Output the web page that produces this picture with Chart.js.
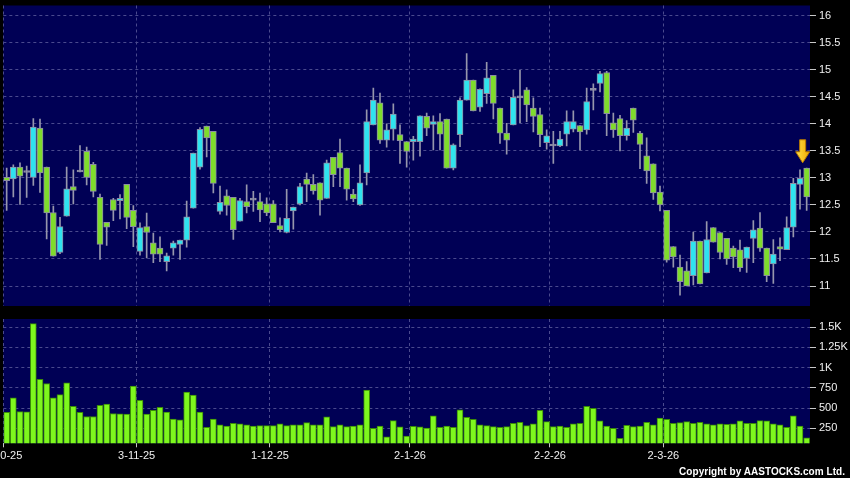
<!DOCTYPE html>
<html>
<head>
<meta charset="utf-8">
<script src="https://cdn.jsdelivr.net/npm/chart.js@4.4.0/dist/chart.umd.min.js"></script>
<style>
html, body { margin: 0; padding: 0; background: #000; overflow: hidden; }
body { width: 850px; height: 478px; position: relative; }
#priceChart { position: absolute; left: -40px; top: 0; }
#volChart { position: absolute; left: -40px; top: 310px; }
#copy { position: absolute; right: 5px; bottom: 1px; color: #fff; font: bold 10px "Liberation Sans", Arial, sans-serif; letter-spacing: 0.05px; }
</style>
</head>
<body>
<canvas id="priceChart" width="890" height="310"></canvas>
<canvas id="volChart" width="890" height="168"></canvas>
<div id="copy">Copyright by AASTOCKS.com Ltd.</div>
<script>
// daily OHLC, Oct 2025 - Mar 2026
const open = [13.01,12.98,13.20,13.10,13.01,13.92,13.20,12.36,11.62,12.29,
  12.84,13.11,13.49,13.25,12.64,12.18,12.60,12.58,12.88,12.40,
  11.64,12.10,11.80,11.70,11.45,11.70,11.77,11.85,12.44,13.20,
  13.96,13.86,12.38,12.67,12.64,12.20,12.56,12.59,12.56,12.52,
  12.52,12.12,11.99,12.39,12.52,12.98,12.88,12.91,12.62,13.38,
  13.47,13.18,12.70,12.50,13.09,13.98,14.39,13.70,13.90,13.80,
  13.67,13.67,13.67,14.14,13.99,14.04,14.09,13.18,13.80,14.44,
  14.81,14.31,14.56,14.90,14.29,13.83,13.98,14.48,14.63,14.29,
  14.17,13.65,13.59,13.59,13.81,13.90,13.97,13.89,14.62,14.75,
  14.95,14.02,14.10,13.78,14.29,13.83,13.41,13.26,12.74,12.40,
  11.73,11.35,11.28,11.19,11.83,11.24,12.08,11.99,11.88,11.70,
  11.67,11.51,11.88,12.07,11.70,11.41,11.73,11.67,12.09,12.88,
  13.18];
const high = [13.18,13.24,13.28,13.22,14.10,14.09,13.20,12.48,12.27,13.20,
  13.15,13.60,13.57,13.29,12.70,12.18,12.62,12.69,12.88,12.49,
  12.17,12.35,11.98,11.91,11.61,11.83,11.85,12.57,13.46,13.93,
  13.96,13.86,12.85,12.78,12.64,12.62,12.87,12.75,12.72,12.63,
  12.58,12.26,12.79,12.46,12.90,13.09,13.06,12.91,13.33,13.38,
  13.72,13.18,12.79,13.24,14.26,14.66,14.57,14.00,14.37,13.98,
  13.67,13.77,14.15,14.20,14.15,14.19,14.09,13.63,14.48,15.30,
  14.81,14.65,15.14,14.90,14.29,14.01,14.63,14.99,14.67,14.48,
  14.29,13.89,13.86,13.86,14.24,14.24,13.97,14.66,14.74,14.97,
  14.97,14.20,14.16,14.06,14.29,13.86,13.74,13.26,12.85,12.40,
  11.73,11.57,11.45,12.00,11.83,12.19,12.08,11.99,11.88,11.74,
  11.85,11.72,12.21,12.36,11.70,11.86,11.89,12.28,12.99,13.15,
  13.18];
const low = [12.40,12.65,12.51,12.64,12.86,12.73,11.87,11.55,11.60,12.29,
  12.52,13.11,12.87,12.65,11.49,11.75,12.21,12.24,12.06,11.73,
  11.57,11.52,11.43,11.45,11.28,11.57,11.49,11.72,12.44,13.16,
  13.39,12.72,12.33,12.31,11.86,12.20,12.35,12.38,12.19,12.30,
  12.17,12.00,11.98,12.05,12.50,12.56,12.70,12.31,12.62,12.84,
  12.84,12.59,12.56,12.49,12.87,13.98,13.64,13.57,13.70,13.27,
  13.20,13.33,13.40,13.78,13.52,13.52,13.18,13.15,13.58,14.44,
  14.24,14.23,14.38,14.09,13.64,13.44,13.98,14.02,14.04,13.85,
  13.58,13.53,13.27,13.58,13.59,13.85,13.52,13.81,14.26,14.59,
  13.78,13.75,13.50,13.70,13.84,13.17,12.90,12.60,12.39,11.44,
  11.35,10.83,11.00,11.02,11.04,11.24,11.81,11.50,11.40,11.34,
  11.27,11.25,11.43,11.64,11.08,11.05,11.47,11.67,11.91,12.42,
  12.40];
const close = [12.95,13.20,13.03,13.10,13.94,13.09,12.35,11.55,12.10,12.80,
  12.77,13.11,13.01,12.75,11.77,12.09,12.40,12.62,12.27,12.10,
  12.08,11.99,11.59,11.59,11.56,11.80,11.85,12.28,13.46,13.90,
  13.74,12.90,12.55,12.49,12.04,12.58,12.47,12.59,12.41,12.35,
  12.17,12.04,12.25,12.46,12.84,12.88,12.76,12.59,13.28,13.06,
  13.18,12.79,12.61,12.91,14.04,14.44,13.70,13.89,14.18,13.69,
  13.49,13.72,14.15,13.92,14.04,13.81,13.18,13.61,14.44,14.81,
  14.24,14.64,14.85,14.38,13.83,13.70,14.49,14.48,14.35,14.14,
  13.80,13.78,13.59,13.72,14.04,14.04,13.85,14.41,14.62,14.93,
  14.19,13.89,13.78,13.92,14.07,13.62,13.13,12.72,12.50,11.48,
  11.54,11.08,11.00,11.83,11.04,11.86,11.81,11.62,11.50,11.54,
  11.34,11.72,12.04,11.70,11.19,11.59,11.68,12.08,12.90,12.99,
  12.65];
const volume = [446,625,458,454,1542,854,804,625,667,812,
  521,446,396,396,533,550,433,429,425,771,
  596,425,471,508,450,363,354,696,662,450,
  262,363,292,279,312,304,292,279,283,283,
  283,304,283,292,292,321,292,292,392,271,
  292,271,279,292,721,250,279,146,346,267,
  154,275,267,254,404,262,279,262,479,387,
  362,292,283,271,262,271,312,325,283,304,
  471,333,271,279,262,304,312,521,496,342,
  279,250,125,287,271,279,325,292,375,362,
  312,321,333,312,325,304,292,304,300,304,
  342,312,312,346,342,304,292,262,404,279,
  133];

// first trading day of each month (1-based candle number) and its label
const monthStart = [1, 21, 41, 62, 83, 100];
const monthLabels = ['2-10-25', '3-11-25', '1-12-25', '2-1-26', '2-2-26', '2-3-26'];
const priceTicks = [11, 11.5, 12, 12.5, 13, 13.5, 14, 14.5, 15, 15.5, 16];
const volTicks = [250, 500, 750, 1000, 1250, 1500];
const volTickLabels = ['250', '500', '750', '1K', '1.25K', '1.5K'];

const UP = '#2fe3ef';
const DOWN = '#7fdc2c';
const FLAT = '#9a9ab0';
const NAVY = '#000055';
const GRID = '#4a4a8e';
const FONT = { family: '"Liberation Sans", Arial, sans-serif', size: 11 };

const idx = open.map((_, i) => i + 1);
const bodyColor = open.map((o, i) => close[i] > o ? UP : (close[i] < o ? DOWN : FLAT));

const navyBg = {
    id: 'navyBg',
    beforeDraw(chart) {
        const a = chart.chartArea;
        chart.ctx.save();
        chart.ctx.fillStyle = NAVY;
        chart.ctx.fillRect(a.left, a.top, a.right - a.left, a.bottom - a.top);
        chart.ctx.restore();
    }
};

// yellow marker above the latest candle
const lastArrow = {
    id: 'lastArrow',
    afterDatasetsDraw(chart) {
        const last = idx.length - 1;
        const x = chart.scales.x.getPixelForValue(idx[last]) - 4;
        const tip = chart.scales.y.getPixelForValue(high[last] + 0.1);
        const ctx = chart.ctx;
        ctx.save();
        const g = ctx.createLinearGradient(x - 7, 0, x + 7, 0);
        g.addColorStop(0, '#ffe14a');
        g.addColorStop(1, '#f0a800');
        ctx.fillStyle = g;
        ctx.strokeStyle = '#b87800';
        ctx.lineWidth = 1;
        ctx.beginPath();
        ctx.moveTo(x - 3, tip - 23);
        ctx.lineTo(x + 3, tip - 23);
        ctx.lineTo(x + 3, tip - 11);
        ctx.lineTo(x + 7, tip - 11);
        ctx.lineTo(x, tip);
        ctx.lineTo(x - 7, tip - 11);
        ctx.lineTo(x - 3, tip - 11);
        ctx.closePath();
        ctx.fill();
        ctx.stroke();
        ctx.restore();
    }
};

function xScale(showLabels) {
    return {
        type: 'linear',
        min: 0.5,
        max: idx.length + 0.5,
        offset: false,
        afterBuildTicks: s => { s.ticks = monthStart.map(m => ({ value: m - 0.5 })); },
        afterFit: s => {
            s.height = showLabels ? 34.7 : 0;
            s.paddingLeft = 0;
            s.paddingRight = 0;
        },
        grid: { offset: false, color: GRID, drawTicks: showLabels, tickLength: 4, tickColor: '#c8c8c8' },
        border: { display: false, dash: [3, 3] },
        ticks: {
            display: showLabels,
            color: '#f0f0f0',
            font: FONT,
            padding: 2,
            maxRotation: 0,
            autoSkip: false,
            callback: v => monthLabels[monthStart.indexOf(v + 0.5)]
        }
    };
}

function yScale(min, max, values, labels) {
    return {
        position: 'right',
        min: min,
        max: max,
        afterBuildTicks: s => { s.ticks = values.map(v => ({ value: v })); },
        afterFit: s => {
            s.width = 40;
            s.paddingTop = 0;
            s.paddingBottom = 0;
        },
        grid: { color: GRID, tickLength: 6, tickColor: '#c8c8c8' },
        border: { display: false, dash: [3, 3] },
        ticks: {
            color: '#f0f0f0',
            font: FONT,
            padding: 3,
            callback: v => labels ? labels[values.indexOf(v)] : String(v)
        }
    };
}

new Chart(document.getElementById('priceChart'), {
    type: 'bar',
    data: {
        datasets: [
            {
                label: 'body',
                data: idx.map((d, i) => ({ x: d, y: [open[i], close[i]] })),
                backgroundColor: bodyColor,
                borderColor: '#8c8ca4',
                borderWidth: 1,
                borderSkipped: false,
                barThickness: 6,
                minBarLength: 2,
                grouped: false,
                order: 0
            },
            {
                label: 'wick',
                data: idx.map((d, i) => ({ x: d, y: [low[i], high[i]] })),
                backgroundColor: '#9696ac',
                borderWidth: 0,
                barThickness: 1,
                grouped: false,
                order: 1
            }
        ]
    },
    options: {
        responsive: false,
        animation: false,
        layout: { padding: { left: 43.33, top: 5.5, right: 0, bottom: 4 } },
        plugins: { legend: { display: false }, tooltip: { enabled: false } },
        scales: {
            x: xScale(false),
            y: yScale(10.63, 16.19, priceTicks, null)
        }
    },
    plugins: [navyBg, lastArrow]
});

new Chart(document.getElementById('volChart'), {
    type: 'bar',
    data: {
        datasets: [{
            label: 'volume',
            data: idx.map((d, i) => ({ x: d, y: volume[i] })),
            backgroundColor: '#7ef71e',
            borderColor: '#3a8a08',
            borderWidth: 1,
            borderSkipped: 'start',
            barThickness: 6
        }]
    },
    options: {
        responsive: false,
        animation: false,
        layout: { padding: { left: 43.33, top: 9, right: 0, bottom: 0 } },
        plugins: { legend: { display: false }, tooltip: { enabled: false } },
        scales: {
            x: xScale(true),
            y: yScale(65, 1600, volTicks, volTickLabels)
        }
    },
    plugins: [navyBg]
});
</script>
</body>
</html>
